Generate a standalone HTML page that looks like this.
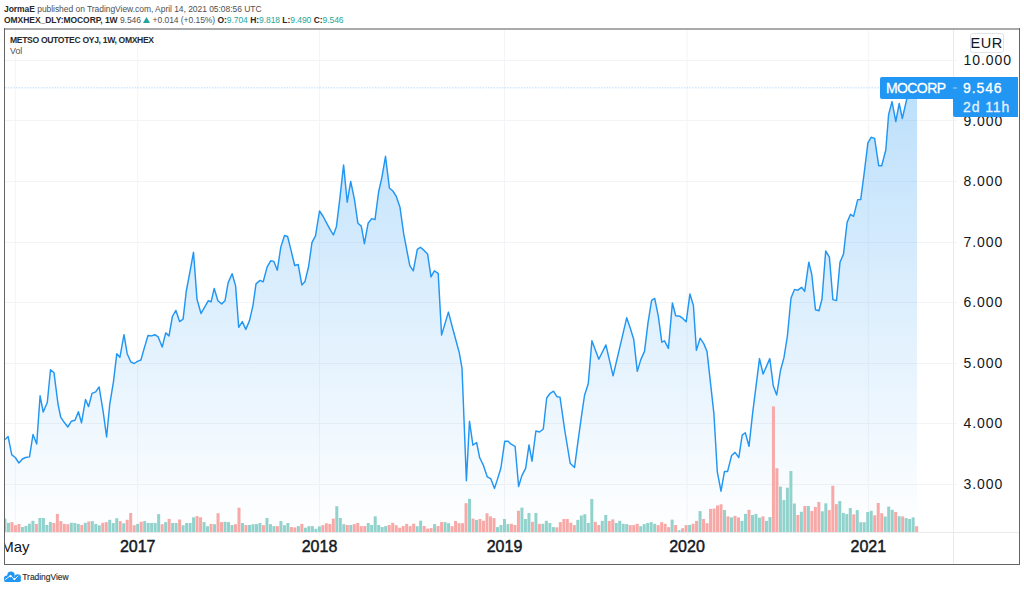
<!DOCTYPE html>
<html><head><meta charset="utf-8">
<style>
html,body{margin:0;padding:0;background:#fff;}
body{width:1024px;height:589px;position:relative;overflow:hidden;font-family:"Liberation Sans",sans-serif;}
.hdr{position:absolute;left:4px;white-space:nowrap;font-size:8.5px;letter-spacing:-0.05px;color:#505050;line-height:10px;}
.hdr b{color:#2a2a2a;}
.tq{color:#26a69a;}
#l1{top:3.6px;}
#l2{top:14.9px;}
svg{position:absolute;left:0;top:0;}
.pl{position:absolute;left:963.5px;font-size:14px;letter-spacing:0.95px;color:#131722;line-height:16px;white-space:nowrap;}
.tl{position:absolute;top:538px;width:80px;text-align:center;font-size:16px;font-weight:normal;-webkit-text-stroke:0.45px #131722;color:#131722;line-height:17px;}
#ttl{position:absolute;left:10px;top:35px;font-size:8.6px;letter-spacing:-0.34px;font-weight:bold;color:#2a2a2a;white-space:nowrap;line-height:10px;}
#vol{position:absolute;left:10px;top:46px;font-size:8.8px;color:#505050;line-height:10px;}
#eur{position:absolute;left:969.5px;top:33px;width:32px;height:18px;border:1px solid #e0e3eb;border-radius:3px;font-size:14.5px;color:#131722;text-align:center;line-height:19px;letter-spacing:0.5px;background:#fff;}
.lbl{position:absolute;color:#fff;-webkit-text-stroke:0.3px #fff;font-size:14px;line-height:16px;white-space:nowrap;letter-spacing:0.9px;}
#tvtext{position:absolute;left:22.3px;top:571.7px;font-size:8.5px;color:#2e2e2e;-webkit-text-stroke:0.15px #2e2e2e;letter-spacing:-0.05px;line-height:10px;}
</style></head><body>
<div class="hdr" id="l1"><b>JormaE</b> published on TradingView.com, April 14, 2021 05:08:56 UTC</div>
<div class="hdr" id="l2"><b>OMXHEX_DLY:MOCORP, 1W</b> 9.546 <svg style="position:relative;display:inline-block;vertical-align:baseline;width:7px;height:6px;top:0px" viewBox="0 0 7 6"><path d="M3.5 0 L7 6 L0 6 Z" fill="#26a69a"/></svg> +0.014 (+0.15%) <b>O:</b><span class="tq">9.704</span> <b>H:</b><span class="tq">9.818</span> <b>L:</b><span class="tq">9.490</span> <b>C:</b><span class="tq">9.546</span></div>
<svg width="1024" height="589" viewBox="0 0 1024 589">
<defs>
<clipPath id="plot"><rect x="5" y="30" width="948" height="502"/></clipPath>
<linearGradient id="ag" x1="0" y1="88" x2="0" y2="532" gradientUnits="userSpaceOnUse">
<stop offset="0" stop-color="#2196f3" stop-opacity="0.30"/>
<stop offset="1" stop-color="#2196f3" stop-opacity="0.0"/>
</linearGradient>
</defs>
<g stroke="#f3f4f7" stroke-width="1">
<line x1="5" y1="60.5" x2="957" y2="60.5"/>
<line x1="5" y1="120.5" x2="957" y2="120.5"/>
<line x1="5" y1="181.5" x2="957" y2="181.5"/>
<line x1="5" y1="242.5" x2="957" y2="242.5"/>
<line x1="5" y1="302.5" x2="957" y2="302.5"/>
<line x1="5" y1="363.5" x2="957" y2="363.5"/>
<line x1="5" y1="423.5" x2="957" y2="423.5"/>
<line x1="5" y1="484.5" x2="957" y2="484.5"/>
<line x1="15.3" y1="30" x2="15.3" y2="536"/>
<line x1="137.7" y1="30" x2="137.7" y2="536"/>
<line x1="319.5" y1="30" x2="319.5" y2="536"/>
<line x1="504.5" y1="30" x2="504.5" y2="536"/>
<line x1="687" y1="30" x2="687" y2="536"/>
<line x1="868.3" y1="30" x2="868.3" y2="536"/>
</g>
<g clip-path="url(#plot)">
<path d="M5.1 439.6 L8.1 436.6 L11.8 454.9 L15.3 457.5 L18.9 463 L22.4 459 L25.5 457.5 L29.5 456.9 L33 434.5 L36.7 444 L40.1 395.8 L43.2 412 L47.3 402.5 L50.5 369.8 L54 372.8 L58 404 L60.7 417.2 L64.2 422.3 L67.8 427 L71.3 421.3 L75 420.3 L78.4 411.7 L81.5 422.9 L85.5 399.5 L88.6 406.6 L92 393.4 L95.7 391.8 L99.1 386.9 L103.2 411.8 L106.6 437 L109.7 404.7 L113.4 382.2 L116.8 353.7 L119.9 357.3 L124 334.7 L127.2 353.7 L130.7 361.8 L134.2 363.5 L137.4 361.4 L140.9 360 L144.4 347.6 L148 335.5 L151.7 335.9 L154.8 334.7 L158.2 336.9 L162.2 347.1 L165.7 332.9 L169 335.9 L172.4 316.5 L175.9 310.4 L179.6 321.6 L183.1 319.2 L186.3 291 L189.8 272.7 L193.5 252.2 L197 299.2 L201 313.5 L204.5 307.3 L208.2 300.8 L211.1 301.8 L214.2 288.4 L217.9 300.8 L221.7 303.9 L225 300.8 L228.1 282.9 L232.1 273.7 L235.6 285.9 L238.7 327.3 L242.3 321.6 L245.8 329.4 L249.5 320.6 L253 305.3 L256 283.9 L260.1 280.4 L263.2 281.8 L267.1 267.1 L270.6 260.8 L273.9 261.4 L277.3 270.2 L280.8 247.1 L284.5 235.5 L287.6 236.5 L291 250.2 L294.7 265.5 L298.2 264.5 L301.8 284.9 L304.9 281.8 L308.6 266.5 L312 242.4 L315.5 235.9 L319.5 211 L323.2 216.5 L326.8 223.3 L330.3 229.8 L333.4 234.9 L336.4 226.7 L339.9 198.2 L343.6 164.9 L347.2 202.2 L350.7 181.4 L354.4 199.2 L357.9 223.3 L361.3 226.1 L364.4 243.7 L368.1 223.3 L371.7 218.6 L375 219.6 L378.6 192 L381.8 177.8 L385.5 156.3 L389.4 188 L392.9 191 L396.1 196.1 L400 207.3 L403.7 233.9 L409.8 265.7 L413.3 270.8 L417.3 249.4 L420.4 247.3 L424.1 250.4 L427.6 254.1 L431 276.9 L434.3 270.8 L438.2 273.3 L441.6 335.1 L448.4 312.1 L453.8 332.5 L459.3 352.9 L462 368.2 L466.4 480.8 L469.5 421.3 L472.9 445.1 L476.6 442.5 L479.7 457.8 L483.1 464.6 L487.3 476.9 L490.7 478.6 L494.5 488.4 L497.5 479.1 L500.9 468 L504.7 441.3 L508.1 441.2 L511.1 444.2 L515.1 446.3 L518.6 486.5 L521.8 475.9 L525.7 468.2 L529 444.9 L532 461.2 L535.9 431 L539.6 432 L543.3 429 L546.7 398 L550.2 393.3 L553.5 391.2 L556.9 396.7 L560 397.1 L564.7 430 L570.2 463.3 L574.5 467.6 L578.1 440.7 L581.2 418.1 L584.5 395.5 L588.3 383.5 L591.9 340.8 L598.8 359.2 L605.9 344.9 L613.1 375.8 L626.7 317.8 L630.2 328 L633.7 339.2 L637.3 371.4 L640.8 359.6 L644.5 351.4 L648 322.9 L651.6 300.4 L654.7 298.4 L658.4 316.7 L661.8 342.2 L664.5 340.8 L668.4 348.4 L672.4 302.9 L675.7 315.7 L680 316.3 L682.8 318.4 L686.2 321.8 L689.9 293.9 L693.4 305.5 L696.4 350.4 L700.1 338.2 L703.6 343.3 L707 351.4 L713.9 413.7 L717.3 471.8 L721 491.2 L724.5 471.4 L727.6 471.4 L731.6 455.5 L735.1 452.4 L738.8 457.6 L742.2 435.1 L745.3 432.7 L749 446.3 L752.7 412.7 L759.5 358.6 L763.1 374 L769.8 358.6 L773.3 386 L776.7 395 L780.5 370.5 L784 357.4 L787.4 336 L791 298 L794.5 289.4 L797.8 290.2 L801.6 287.3 L804.7 291.4 L808.8 262.2 L811.8 274.5 L815.5 309.8 L819 310.8 L822 299 L825.7 251 L829.4 257.1 L832.9 299.6 L836.5 300.6 L840 262.2 L843.5 254.1 L847.1 222.4 L850.5 214.3 L853.6 216.3 L857.7 199.6 L860.7 199.6 L864.4 171.4 L867.9 142.9 L871.1 137.3 L874.6 138.4 L878.7 165.7 L881.7 165.7 L885.8 150 L888.6 114.7 L892 101.6 L895.8 121.5 L899.2 103.5 L902.3 118.5 L906.8 99 L910 92 L913.5 95 L917 87.5 L917 532 L5.1 532 Z" fill="url(#ag)"/>
<rect x="3.47" y="518.6" width="3" height="13.4" fill="#92d2cc"/>
<rect x="6.96" y="522.8" width="3" height="9.2" fill="#92d2cc"/>
<rect x="10.45" y="522.1" width="3" height="9.9" fill="#f7a9a7"/>
<rect x="13.94" y="525.2" width="3" height="6.8" fill="#f7a9a7"/>
<rect x="17.44" y="524" width="3" height="8" fill="#f7a9a7"/>
<rect x="20.93" y="527" width="3" height="5" fill="#92d2cc"/>
<rect x="24.42" y="525.9" width="3" height="6.1" fill="#92d2cc"/>
<rect x="27.92" y="523.7" width="3" height="8.3" fill="#92d2cc"/>
<rect x="31.41" y="520.8" width="3" height="11.2" fill="#92d2cc"/>
<rect x="34.9" y="523.9" width="3" height="8.1" fill="#f7a9a7"/>
<rect x="38.4" y="518" width="3" height="14" fill="#92d2cc"/>
<rect x="41.89" y="518" width="3" height="14" fill="#92d2cc"/>
<rect x="45.38" y="525" width="3" height="7" fill="#92d2cc"/>
<rect x="48.87" y="522" width="3" height="10" fill="#92d2cc"/>
<rect x="52.37" y="523" width="3" height="9" fill="#f7a9a7"/>
<rect x="55.86" y="513.9" width="3" height="18.1" fill="#f7a9a7"/>
<rect x="59.35" y="521.1" width="3" height="10.9" fill="#f7a9a7"/>
<rect x="62.85" y="523.9" width="3" height="8.1" fill="#f7a9a7"/>
<rect x="66.34" y="524.2" width="3" height="7.8" fill="#f7a9a7"/>
<rect x="69.83" y="522.8" width="3" height="9.2" fill="#92d2cc"/>
<rect x="73.33" y="523" width="3" height="9" fill="#92d2cc"/>
<rect x="76.82" y="523.9" width="3" height="8.1" fill="#92d2cc"/>
<rect x="80.31" y="525" width="3" height="7" fill="#f7a9a7"/>
<rect x="83.8" y="522.8" width="3" height="9.2" fill="#92d2cc"/>
<rect x="87.3" y="521.5" width="3" height="10.5" fill="#f7a9a7"/>
<rect x="90.79" y="521.1" width="3" height="10.9" fill="#92d2cc"/>
<rect x="94.28" y="523.9" width="3" height="8.1" fill="#92d2cc"/>
<rect x="97.78" y="525.3" width="3" height="6.7" fill="#92d2cc"/>
<rect x="101.27" y="522.8" width="3" height="9.2" fill="#f7a9a7"/>
<rect x="104.76" y="522.1" width="3" height="9.9" fill="#f7a9a7"/>
<rect x="108.26" y="519.8" width="3" height="12.2" fill="#92d2cc"/>
<rect x="111.75" y="523" width="3" height="9" fill="#92d2cc"/>
<rect x="115.24" y="518.2" width="3" height="13.8" fill="#92d2cc"/>
<rect x="118.73" y="521.1" width="3" height="10.9" fill="#f7a9a7"/>
<rect x="122.23" y="523.3" width="3" height="8.7" fill="#92d2cc"/>
<rect x="125.72" y="519.8" width="3" height="12.2" fill="#f7a9a7"/>
<rect x="129.21" y="513" width="3" height="19" fill="#f7a9a7"/>
<rect x="132.71" y="525.2" width="3" height="6.8" fill="#f7a9a7"/>
<rect x="136.2" y="523.9" width="3" height="8.1" fill="#92d2cc"/>
<rect x="139.69" y="521.8" width="3" height="10.2" fill="#f7a9a7"/>
<rect x="143.19" y="521.1" width="3" height="10.9" fill="#92d2cc"/>
<rect x="146.68" y="523" width="3" height="9" fill="#92d2cc"/>
<rect x="150.17" y="523" width="3" height="9" fill="#92d2cc"/>
<rect x="153.66" y="523" width="3" height="9" fill="#92d2cc"/>
<rect x="157.16" y="514.1" width="3" height="17.9" fill="#92d2cc"/>
<rect x="160.65" y="524.2" width="3" height="7.8" fill="#f7a9a7"/>
<rect x="164.14" y="522.1" width="3" height="9.9" fill="#92d2cc"/>
<rect x="167.64" y="518.9" width="3" height="13.1" fill="#f7a9a7"/>
<rect x="171.13" y="523" width="3" height="9" fill="#92d2cc"/>
<rect x="174.62" y="523" width="3" height="9" fill="#92d2cc"/>
<rect x="178.12" y="519.5" width="3" height="12.5" fill="#f7a9a7"/>
<rect x="181.61" y="525.3" width="3" height="6.7" fill="#92d2cc"/>
<rect x="185.1" y="523" width="3" height="9" fill="#92d2cc"/>
<rect x="188.59" y="523" width="3" height="9" fill="#92d2cc"/>
<rect x="192.09" y="517.3" width="3" height="14.7" fill="#92d2cc"/>
<rect x="195.58" y="516.1" width="3" height="15.9" fill="#f7a9a7"/>
<rect x="199.07" y="517.3" width="3" height="14.7" fill="#f7a9a7"/>
<rect x="202.57" y="522.1" width="3" height="9.9" fill="#92d2cc"/>
<rect x="206.06" y="526.2" width="3" height="5.8" fill="#92d2cc"/>
<rect x="209.55" y="523.9" width="3" height="8.1" fill="#f7a9a7"/>
<rect x="213.05" y="524.2" width="3" height="7.8" fill="#92d2cc"/>
<rect x="216.54" y="513.2" width="3" height="18.8" fill="#f7a9a7"/>
<rect x="220.03" y="522.1" width="3" height="9.9" fill="#f7a9a7"/>
<rect x="223.52" y="521.8" width="3" height="10.2" fill="#92d2cc"/>
<rect x="227.02" y="522.1" width="3" height="9.9" fill="#92d2cc"/>
<rect x="230.51" y="525" width="3" height="7" fill="#92d2cc"/>
<rect x="234" y="524.2" width="3" height="7.8" fill="#f7a9a7"/>
<rect x="237.5" y="507.7" width="3" height="24.3" fill="#f7a9a7"/>
<rect x="240.99" y="523" width="3" height="9" fill="#92d2cc"/>
<rect x="244.48" y="525" width="3" height="7" fill="#f7a9a7"/>
<rect x="247.98" y="525" width="3" height="7" fill="#92d2cc"/>
<rect x="251.47" y="524.2" width="3" height="7.8" fill="#92d2cc"/>
<rect x="254.96" y="524.2" width="3" height="7.8" fill="#92d2cc"/>
<rect x="258.45" y="523" width="3" height="9" fill="#92d2cc"/>
<rect x="261.95" y="525.2" width="3" height="6.8" fill="#f7a9a7"/>
<rect x="265.44" y="518" width="3" height="14" fill="#92d2cc"/>
<rect x="268.93" y="524.2" width="3" height="7.8" fill="#92d2cc"/>
<rect x="272.43" y="526.1" width="3" height="5.9" fill="#92d2cc"/>
<rect x="275.92" y="526.1" width="3" height="5.9" fill="#f7a9a7"/>
<rect x="279.41" y="521.1" width="3" height="10.9" fill="#92d2cc"/>
<rect x="282.91" y="525.2" width="3" height="6.8" fill="#92d2cc"/>
<rect x="286.4" y="523" width="3" height="9" fill="#92d2cc"/>
<rect x="289.89" y="527" width="3" height="5" fill="#f7a9a7"/>
<rect x="293.38" y="527.4" width="3" height="4.6" fill="#f7a9a7"/>
<rect x="296.88" y="526.1" width="3" height="5.9" fill="#92d2cc"/>
<rect x="300.37" y="523.9" width="3" height="8.1" fill="#f7a9a7"/>
<rect x="303.86" y="527.7" width="3" height="4.3" fill="#92d2cc"/>
<rect x="307.36" y="526.2" width="3" height="5.8" fill="#92d2cc"/>
<rect x="310.85" y="526.1" width="3" height="5.9" fill="#92d2cc"/>
<rect x="314.34" y="528.8" width="3" height="3.2" fill="#92d2cc"/>
<rect x="317.84" y="526.4" width="3" height="5.6" fill="#92d2cc"/>
<rect x="321.33" y="525.2" width="3" height="6.8" fill="#f7a9a7"/>
<rect x="324.82" y="523.3" width="3" height="8.7" fill="#f7a9a7"/>
<rect x="328.31" y="523.9" width="3" height="8.1" fill="#f7a9a7"/>
<rect x="331.81" y="518.6" width="3" height="13.4" fill="#f7a9a7"/>
<rect x="335.3" y="506.2" width="3" height="25.8" fill="#92d2cc"/>
<rect x="338.79" y="518" width="3" height="14" fill="#92d2cc"/>
<rect x="342.29" y="524.2" width="3" height="7.8" fill="#92d2cc"/>
<rect x="345.78" y="525" width="3" height="7" fill="#f7a9a7"/>
<rect x="349.27" y="525" width="3" height="7" fill="#92d2cc"/>
<rect x="352.77" y="524.2" width="3" height="7.8" fill="#f7a9a7"/>
<rect x="356.26" y="523" width="3" height="9" fill="#f7a9a7"/>
<rect x="359.75" y="526.1" width="3" height="5.9" fill="#f7a9a7"/>
<rect x="363.25" y="526" width="3" height="6" fill="#f7a9a7"/>
<rect x="366.74" y="523" width="3" height="9" fill="#92d2cc"/>
<rect x="370.23" y="525" width="3" height="7" fill="#92d2cc"/>
<rect x="373.72" y="516.3" width="3" height="15.7" fill="#92d2cc"/>
<rect x="377.22" y="525" width="3" height="7" fill="#92d2cc"/>
<rect x="380.71" y="527" width="3" height="5" fill="#92d2cc"/>
<rect x="384.2" y="526.1" width="3" height="5.9" fill="#92d2cc"/>
<rect x="387.7" y="525" width="3" height="7" fill="#f7a9a7"/>
<rect x="391.19" y="522.8" width="3" height="9.2" fill="#f7a9a7"/>
<rect x="394.68" y="525.2" width="3" height="6.8" fill="#f7a9a7"/>
<rect x="398.17" y="527.7" width="3" height="4.3" fill="#f7a9a7"/>
<rect x="401.67" y="526.1" width="3" height="5.9" fill="#f7a9a7"/>
<rect x="405.16" y="523.9" width="3" height="8.1" fill="#f7a9a7"/>
<rect x="408.65" y="526.1" width="3" height="5.9" fill="#f7a9a7"/>
<rect x="412.15" y="523.7" width="3" height="8.3" fill="#f7a9a7"/>
<rect x="415.64" y="526.2" width="3" height="5.8" fill="#92d2cc"/>
<rect x="419.13" y="520.7" width="3" height="11.3" fill="#92d2cc"/>
<rect x="422.63" y="526" width="3" height="6" fill="#f7a9a7"/>
<rect x="426.12" y="528.6" width="3" height="3.4" fill="#f7a9a7"/>
<rect x="429.61" y="528.1" width="3" height="3.9" fill="#f7a9a7"/>
<rect x="433.1" y="524.1" width="3" height="7.9" fill="#92d2cc"/>
<rect x="436.6" y="526" width="3" height="6" fill="#f7a9a7"/>
<rect x="440.09" y="522.1" width="3" height="9.9" fill="#f7a9a7"/>
<rect x="443.58" y="522.1" width="3" height="9.9" fill="#92d2cc"/>
<rect x="447.08" y="523.2" width="3" height="8.8" fill="#92d2cc"/>
<rect x="450.57" y="526.2" width="3" height="5.8" fill="#f7a9a7"/>
<rect x="454.06" y="521" width="3" height="11" fill="#f7a9a7"/>
<rect x="457.56" y="523.2" width="3" height="8.8" fill="#f7a9a7"/>
<rect x="461.05" y="523.2" width="3" height="8.8" fill="#f7a9a7"/>
<rect x="464.54" y="503.2" width="3" height="28.8" fill="#f7a9a7"/>
<rect x="468.03" y="498.8" width="3" height="33.2" fill="#92d2cc"/>
<rect x="471.53" y="518.6" width="3" height="13.4" fill="#f7a9a7"/>
<rect x="475.02" y="520" width="3" height="12" fill="#92d2cc"/>
<rect x="478.51" y="519" width="3" height="13" fill="#f7a9a7"/>
<rect x="482.01" y="520.8" width="3" height="11.2" fill="#f7a9a7"/>
<rect x="485.5" y="513.3" width="3" height="18.7" fill="#f7a9a7"/>
<rect x="488.99" y="516.4" width="3" height="15.6" fill="#f7a9a7"/>
<rect x="492.49" y="518.1" width="3" height="13.9" fill="#f7a9a7"/>
<rect x="495.98" y="527.1" width="3" height="4.9" fill="#92d2cc"/>
<rect x="499.47" y="525" width="3" height="7" fill="#92d2cc"/>
<rect x="502.96" y="519" width="3" height="13" fill="#92d2cc"/>
<rect x="506.46" y="524.1" width="3" height="7.9" fill="#92d2cc"/>
<rect x="509.95" y="523.8" width="3" height="8.2" fill="#f7a9a7"/>
<rect x="513.44" y="525" width="3" height="7" fill="#f7a9a7"/>
<rect x="516.94" y="510.7" width="3" height="21.3" fill="#f7a9a7"/>
<rect x="520.43" y="507.6" width="3" height="24.4" fill="#92d2cc"/>
<rect x="523.92" y="519" width="3" height="13" fill="#92d2cc"/>
<rect x="527.42" y="513" width="3" height="19" fill="#92d2cc"/>
<rect x="530.91" y="521.8" width="3" height="10.2" fill="#f7a9a7"/>
<rect x="534.4" y="513" width="3" height="19" fill="#92d2cc"/>
<rect x="537.89" y="523.8" width="3" height="8.2" fill="#f7a9a7"/>
<rect x="541.39" y="523.8" width="3" height="8.2" fill="#92d2cc"/>
<rect x="544.88" y="520.8" width="3" height="11.2" fill="#92d2cc"/>
<rect x="548.37" y="523" width="3" height="9" fill="#92d2cc"/>
<rect x="551.87" y="527.1" width="3" height="4.9" fill="#92d2cc"/>
<rect x="555.36" y="527.3" width="3" height="4.7" fill="#f7a9a7"/>
<rect x="558.85" y="522.1" width="3" height="9.9" fill="#f7a9a7"/>
<rect x="562.35" y="519" width="3" height="13" fill="#f7a9a7"/>
<rect x="565.84" y="519" width="3" height="13" fill="#f7a9a7"/>
<rect x="569.33" y="522.7" width="3" height="9.3" fill="#f7a9a7"/>
<rect x="572.83" y="525.1" width="3" height="6.9" fill="#f7a9a7"/>
<rect x="576.32" y="519.9" width="3" height="12.1" fill="#92d2cc"/>
<rect x="579.81" y="515.5" width="3" height="16.5" fill="#92d2cc"/>
<rect x="583.3" y="514.2" width="3" height="17.8" fill="#92d2cc"/>
<rect x="586.8" y="523" width="3" height="9" fill="#92d2cc"/>
<rect x="590.29" y="499" width="3" height="33" fill="#92d2cc"/>
<rect x="593.78" y="521.8" width="3" height="10.2" fill="#f7a9a7"/>
<rect x="597.28" y="525" width="3" height="7" fill="#f7a9a7"/>
<rect x="600.77" y="520.8" width="3" height="11.2" fill="#92d2cc"/>
<rect x="604.26" y="515" width="3" height="17" fill="#92d2cc"/>
<rect x="607.75" y="520.9" width="3" height="11.1" fill="#f7a9a7"/>
<rect x="611.25" y="519.4" width="3" height="12.6" fill="#f7a9a7"/>
<rect x="614.74" y="523" width="3" height="9" fill="#92d2cc"/>
<rect x="618.23" y="520.8" width="3" height="11.2" fill="#92d2cc"/>
<rect x="621.73" y="523.8" width="3" height="8.2" fill="#92d2cc"/>
<rect x="625.22" y="524.1" width="3" height="7.9" fill="#92d2cc"/>
<rect x="628.71" y="525.1" width="3" height="6.9" fill="#f7a9a7"/>
<rect x="632.21" y="525.1" width="3" height="6.9" fill="#f7a9a7"/>
<rect x="635.7" y="523.8" width="3" height="8.2" fill="#f7a9a7"/>
<rect x="639.19" y="526.2" width="3" height="5.8" fill="#92d2cc"/>
<rect x="642.68" y="524.1" width="3" height="7.9" fill="#92d2cc"/>
<rect x="646.18" y="523" width="3" height="9" fill="#92d2cc"/>
<rect x="649.67" y="522.1" width="3" height="9.9" fill="#92d2cc"/>
<rect x="653.16" y="523.8" width="3" height="8.2" fill="#92d2cc"/>
<rect x="656.66" y="525.1" width="3" height="6.9" fill="#f7a9a7"/>
<rect x="660.15" y="522.1" width="3" height="9.9" fill="#f7a9a7"/>
<rect x="663.64" y="523.8" width="3" height="8.2" fill="#f7a9a7"/>
<rect x="667.14" y="527.1" width="3" height="4.9" fill="#f7a9a7"/>
<rect x="670.63" y="519.6" width="3" height="12.4" fill="#92d2cc"/>
<rect x="674.12" y="525" width="3" height="7" fill="#f7a9a7"/>
<rect x="677.62" y="530.2" width="3" height="1.8" fill="#92d2cc"/>
<rect x="681.11" y="528.2" width="3" height="3.8" fill="#f7a9a7"/>
<rect x="684.6" y="525.1" width="3" height="6.9" fill="#f7a9a7"/>
<rect x="688.09" y="525" width="3" height="7" fill="#92d2cc"/>
<rect x="691.59" y="523.8" width="3" height="8.2" fill="#f7a9a7"/>
<rect x="695.08" y="520.9" width="3" height="11.1" fill="#f7a9a7"/>
<rect x="698.57" y="511.1" width="3" height="20.9" fill="#92d2cc"/>
<rect x="702.07" y="519" width="3" height="13" fill="#f7a9a7"/>
<rect x="705.56" y="523.2" width="3" height="8.8" fill="#f7a9a7"/>
<rect x="709.05" y="508.9" width="3" height="23.1" fill="#f7a9a7"/>
<rect x="712.55" y="508.6" width="3" height="23.4" fill="#f7a9a7"/>
<rect x="716.04" y="505.4" width="3" height="26.6" fill="#f7a9a7"/>
<rect x="719.53" y="504.3" width="3" height="27.7" fill="#f7a9a7"/>
<rect x="723.02" y="510" width="3" height="22" fill="#92d2cc"/>
<rect x="726.52" y="516.4" width="3" height="15.6" fill="#f7a9a7"/>
<rect x="730.01" y="517.4" width="3" height="14.6" fill="#92d2cc"/>
<rect x="733.5" y="515.9" width="3" height="16.1" fill="#f7a9a7"/>
<rect x="737" y="517.4" width="3" height="14.6" fill="#f7a9a7"/>
<rect x="740.49" y="520.9" width="3" height="11.1" fill="#92d2cc"/>
<rect x="743.98" y="513.9" width="3" height="18.1" fill="#92d2cc"/>
<rect x="747.47" y="509.8" width="3" height="22.2" fill="#f7a9a7"/>
<rect x="750.97" y="515" width="3" height="17" fill="#92d2cc"/>
<rect x="754.46" y="513.9" width="3" height="18.1" fill="#92d2cc"/>
<rect x="757.95" y="517.7" width="3" height="14.3" fill="#92d2cc"/>
<rect x="761.45" y="516.4" width="3" height="15.6" fill="#f7a9a7"/>
<rect x="764.94" y="520.9" width="3" height="11.1" fill="#92d2cc"/>
<rect x="768.43" y="517.1" width="3" height="14.9" fill="#92d2cc"/>
<rect x="771.93" y="406.4" width="3" height="125.6" fill="#f7a9a7"/>
<rect x="775.42" y="468.2" width="3" height="63.8" fill="#f7a9a7"/>
<rect x="778.91" y="486.6" width="3" height="45.4" fill="#92d2cc"/>
<rect x="782.4" y="500.1" width="3" height="31.9" fill="#92d2cc"/>
<rect x="785.9" y="487.7" width="3" height="44.3" fill="#92d2cc"/>
<rect x="789.39" y="471" width="3" height="61" fill="#92d2cc"/>
<rect x="792.88" y="503.5" width="3" height="28.5" fill="#92d2cc"/>
<rect x="796.38" y="515" width="3" height="17" fill="#f7a9a7"/>
<rect x="799.87" y="511.8" width="3" height="20.2" fill="#92d2cc"/>
<rect x="803.36" y="506" width="3" height="26" fill="#f7a9a7"/>
<rect x="806.86" y="506" width="3" height="26" fill="#92d2cc"/>
<rect x="810.35" y="510.9" width="3" height="21.1" fill="#f7a9a7"/>
<rect x="813.84" y="506.9" width="3" height="25.1" fill="#f7a9a7"/>
<rect x="817.34" y="502" width="3" height="30" fill="#f7a9a7"/>
<rect x="820.83" y="511.3" width="3" height="20.7" fill="#92d2cc"/>
<rect x="824.32" y="503.3" width="3" height="28.7" fill="#92d2cc"/>
<rect x="827.81" y="510.1" width="3" height="21.9" fill="#f7a9a7"/>
<rect x="831.31" y="485.8" width="3" height="46.2" fill="#f7a9a7"/>
<rect x="834.8" y="504.1" width="3" height="27.9" fill="#f7a9a7"/>
<rect x="838.29" y="501" width="3" height="31" fill="#92d2cc"/>
<rect x="841.79" y="512.9" width="3" height="19.1" fill="#92d2cc"/>
<rect x="845.28" y="514.1" width="3" height="17.9" fill="#92d2cc"/>
<rect x="848.77" y="508" width="3" height="24" fill="#92d2cc"/>
<rect x="852.26" y="514.4" width="3" height="17.6" fill="#f7a9a7"/>
<rect x="855.76" y="510.1" width="3" height="21.9" fill="#92d2cc"/>
<rect x="859.25" y="522.2" width="3" height="9.8" fill="#92d2cc"/>
<rect x="862.74" y="522.2" width="3" height="9.8" fill="#92d2cc"/>
<rect x="866.24" y="512" width="3" height="20" fill="#92d2cc"/>
<rect x="869.73" y="510.8" width="3" height="21.2" fill="#92d2cc"/>
<rect x="873.22" y="515.3" width="3" height="16.7" fill="#f7a9a7"/>
<rect x="876.72" y="503" width="3" height="29" fill="#f7a9a7"/>
<rect x="880.21" y="513.2" width="3" height="18.8" fill="#f7a9a7"/>
<rect x="883.7" y="516.5" width="3" height="15.5" fill="#92d2cc"/>
<rect x="887.19" y="506.6" width="3" height="25.4" fill="#92d2cc"/>
<rect x="890.69" y="509.8" width="3" height="22.2" fill="#92d2cc"/>
<rect x="894.18" y="512" width="3" height="20" fill="#f7a9a7"/>
<rect x="897.67" y="516.2" width="3" height="15.8" fill="#92d2cc"/>
<rect x="901.17" y="516.4" width="3" height="15.6" fill="#f7a9a7"/>
<rect x="904.66" y="518.1" width="3" height="13.9" fill="#92d2cc"/>
<rect x="908.15" y="519" width="3" height="13" fill="#92d2cc"/>
<rect x="911.65" y="517.4" width="3" height="14.6" fill="#92d2cc"/>
<rect x="915.14" y="526.2" width="3" height="5.8" fill="#f7a9a7"/>
<path d="M5.1 439.6 L8.1 436.6 L11.8 454.9 L15.3 457.5 L18.9 463 L22.4 459 L25.5 457.5 L29.5 456.9 L33 434.5 L36.7 444 L40.1 395.8 L43.2 412 L47.3 402.5 L50.5 369.8 L54 372.8 L58 404 L60.7 417.2 L64.2 422.3 L67.8 427 L71.3 421.3 L75 420.3 L78.4 411.7 L81.5 422.9 L85.5 399.5 L88.6 406.6 L92 393.4 L95.7 391.8 L99.1 386.9 L103.2 411.8 L106.6 437 L109.7 404.7 L113.4 382.2 L116.8 353.7 L119.9 357.3 L124 334.7 L127.2 353.7 L130.7 361.8 L134.2 363.5 L137.4 361.4 L140.9 360 L144.4 347.6 L148 335.5 L151.7 335.9 L154.8 334.7 L158.2 336.9 L162.2 347.1 L165.7 332.9 L169 335.9 L172.4 316.5 L175.9 310.4 L179.6 321.6 L183.1 319.2 L186.3 291 L189.8 272.7 L193.5 252.2 L197 299.2 L201 313.5 L204.5 307.3 L208.2 300.8 L211.1 301.8 L214.2 288.4 L217.9 300.8 L221.7 303.9 L225 300.8 L228.1 282.9 L232.1 273.7 L235.6 285.9 L238.7 327.3 L242.3 321.6 L245.8 329.4 L249.5 320.6 L253 305.3 L256 283.9 L260.1 280.4 L263.2 281.8 L267.1 267.1 L270.6 260.8 L273.9 261.4 L277.3 270.2 L280.8 247.1 L284.5 235.5 L287.6 236.5 L291 250.2 L294.7 265.5 L298.2 264.5 L301.8 284.9 L304.9 281.8 L308.6 266.5 L312 242.4 L315.5 235.9 L319.5 211 L323.2 216.5 L326.8 223.3 L330.3 229.8 L333.4 234.9 L336.4 226.7 L339.9 198.2 L343.6 164.9 L347.2 202.2 L350.7 181.4 L354.4 199.2 L357.9 223.3 L361.3 226.1 L364.4 243.7 L368.1 223.3 L371.7 218.6 L375 219.6 L378.6 192 L381.8 177.8 L385.5 156.3 L389.4 188 L392.9 191 L396.1 196.1 L400 207.3 L403.7 233.9 L409.8 265.7 L413.3 270.8 L417.3 249.4 L420.4 247.3 L424.1 250.4 L427.6 254.1 L431 276.9 L434.3 270.8 L438.2 273.3 L441.6 335.1 L448.4 312.1 L453.8 332.5 L459.3 352.9 L462 368.2 L466.4 480.8 L469.5 421.3 L472.9 445.1 L476.6 442.5 L479.7 457.8 L483.1 464.6 L487.3 476.9 L490.7 478.6 L494.5 488.4 L497.5 479.1 L500.9 468 L504.7 441.3 L508.1 441.2 L511.1 444.2 L515.1 446.3 L518.6 486.5 L521.8 475.9 L525.7 468.2 L529 444.9 L532 461.2 L535.9 431 L539.6 432 L543.3 429 L546.7 398 L550.2 393.3 L553.5 391.2 L556.9 396.7 L560 397.1 L564.7 430 L570.2 463.3 L574.5 467.6 L578.1 440.7 L581.2 418.1 L584.5 395.5 L588.3 383.5 L591.9 340.8 L598.8 359.2 L605.9 344.9 L613.1 375.8 L626.7 317.8 L630.2 328 L633.7 339.2 L637.3 371.4 L640.8 359.6 L644.5 351.4 L648 322.9 L651.6 300.4 L654.7 298.4 L658.4 316.7 L661.8 342.2 L664.5 340.8 L668.4 348.4 L672.4 302.9 L675.7 315.7 L680 316.3 L682.8 318.4 L686.2 321.8 L689.9 293.9 L693.4 305.5 L696.4 350.4 L700.1 338.2 L703.6 343.3 L707 351.4 L713.9 413.7 L717.3 471.8 L721 491.2 L724.5 471.4 L727.6 471.4 L731.6 455.5 L735.1 452.4 L738.8 457.6 L742.2 435.1 L745.3 432.7 L749 446.3 L752.7 412.7 L759.5 358.6 L763.1 374 L769.8 358.6 L773.3 386 L776.7 395 L780.5 370.5 L784 357.4 L787.4 336 L791 298 L794.5 289.4 L797.8 290.2 L801.6 287.3 L804.7 291.4 L808.8 262.2 L811.8 274.5 L815.5 309.8 L819 310.8 L822 299 L825.7 251 L829.4 257.1 L832.9 299.6 L836.5 300.6 L840 262.2 L843.5 254.1 L847.1 222.4 L850.5 214.3 L853.6 216.3 L857.7 199.6 L860.7 199.6 L864.4 171.4 L867.9 142.9 L871.1 137.3 L874.6 138.4 L878.7 165.7 L881.7 165.7 L885.8 150 L888.6 114.7 L892 101.6 L895.8 121.5 L899.2 103.5 L902.3 118.5 L906.8 99 L910 92 L913.5 95 L917 87.5" fill="none" stroke="#2196f3" stroke-width="1.45" stroke-linejoin="round"/>
<line x1="5" y1="87.8" x2="880" y2="87.8" stroke="#2196f3" stroke-opacity="0.3" stroke-dasharray="1.5 1.26"/>
</g>
<line x1="953.5" y1="30" x2="953.5" y2="564" stroke="#e9eaed" stroke-width="1"/>
<line x1="5" y1="532.5" x2="1019" y2="532.5" stroke="#e9eaed" stroke-width="1"/>
<!-- frame -->
<rect x="4" y="28" width="1016" height="2" fill="#aaaaaa"/>
<rect x="4" y="28" width="1" height="537" fill="#646464"/>
<rect x="1019" y="28" width="1" height="537" fill="#646464"/>
<rect x="4" y="564" width="1016" height="1" fill="#646464"/>
<!-- TV logo -->
<g fill="#2196f3">
<circle cx="11" cy="575.3" r="3.7"/>
<circle cx="17.7" cy="577.4" r="3.2"/>
<circle cx="7" cy="578.6" r="3.1"/>
<rect x="6" y="577" width="12" height="5" rx="1.5"/>
<rect x="4" y="578.5" width="17" height="3.5" rx="1.7"/>
</g>
<g fill="#fff">
<path d="M4.7 579.9 L10.5 575.6 L14.4 579.5 L18.3 575.8" fill="none" stroke="#fff" stroke-width="0.9"/>
<circle cx="10.5" cy="576.1" r="1.2"/>
<circle cx="14.4" cy="579.1" r="1.1"/>
</g>
</svg>
<div id="ttl">METSO OUTOTEC OYJ, 1W, OMXHEX</div>
<div id="vol">Vol</div>
<div class="pl" style="top:52px">10.000</div>
<div class="pl" style="top:112.57px">9.000</div>
<div class="pl" style="top:173.14px">8.000</div>
<div class="pl" style="top:233.71px">7.000</div>
<div class="pl" style="top:294.28px">6.000</div>
<div class="pl" style="top:354.86px">5.000</div>
<div class="pl" style="top:415.43px">4.000</div>
<div class="pl" style="top:476px">3.000</div>
<div style="position:absolute;left:5px;top:0;width:948px;height:589px;overflow:hidden;">
<div class="tl" style="left:-29.7px;-webkit-text-stroke:0;font-size:15px;top:537.8px;">May</div>
</div>
<div class="tl" style="left:97.7px">2017</div>
<div class="tl" style="left:279.5px">2018</div>
<div class="tl" style="left:464.5px">2019</div>
<div class="tl" style="left:647px">2020</div>
<div class="tl" style="left:828.3px">2021</div>
<div id="eur">EUR</div>
<svg width="1024" height="589" viewBox="0 0 1024 589" style="position:absolute;left:0;top:0;">
<path d="M882 77 H1018 V117 H955 Q953 117 953 115 V99 H882 Q880 99 880 97 V79 Q880 77 882 77 Z" fill="#2196f3"/>
<line x1="953" y1="88" x2="957" y2="88" stroke="#fff" stroke-opacity="0.6"/>
</svg>
<div class="lbl" style="left:886px;top:79.5px;letter-spacing:-0.6px;">MOCORP</div>
<div class="lbl" style="left:963px;top:79.5px;">9.546</div>
<div class="lbl" style="left:963px;top:98.5px;opacity:0.88;">2d 11h</div>
<div id="tvtext">TradingView</div>
</body></html>
